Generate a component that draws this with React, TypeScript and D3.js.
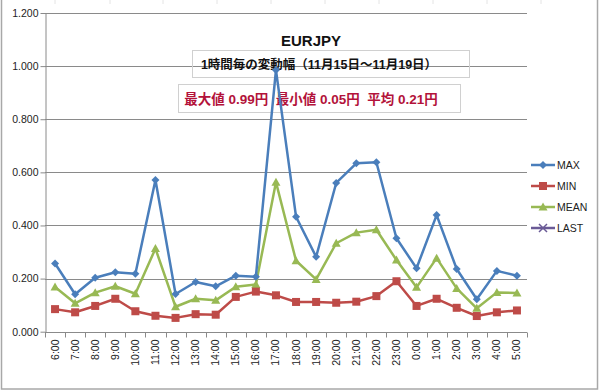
import React, { useEffect, useRef } from 'react';
import * as d3 from 'd3';

// hourly categories, 6:00 .. 5:00
const hours = ['6:00', '7:00', '8:00', '9:00', '10:00', '11:00', '12:00', '13:00', '14:00', '15:00', '16:00', '17:00',
  '18:00', '19:00', '20:00', '21:00', '22:00', '23:00', '0:00', '1:00', '2:00', '3:00', '4:00', '5:00'];

const maxValues = [0.257, 0.141, 0.203, 0.224, 0.218, 0.571, 0.142, 0.187, 0.171, 0.211, 0.207, 0.985,
  0.433, 0.282, 0.560, 0.634, 0.638, 0.352, 0.239, 0.439, 0.236, 0.122, 0.229, 0.211];
const minValues = [0.085, 0.073, 0.097, 0.124, 0.077, 0.060, 0.052, 0.066, 0.064, 0.131, 0.151, 0.137,
  0.112, 0.112, 0.109, 0.113, 0.134, 0.190, 0.097, 0.124, 0.090, 0.059, 0.073, 0.080];
const meanValues = [0.168, 0.107, 0.147, 0.171, 0.143, 0.313, 0.094, 0.124, 0.118, 0.169, 0.178, 0.563,
  0.267, 0.197, 0.333, 0.373, 0.384, 0.270, 0.167, 0.277, 0.163, 0.088, 0.148, 0.146];
const lastValues: number[] = []; // in legend only

const yTicks = [0, 0.2, 0.4, 0.6, 0.8, 1.0, 1.2];

const series = [
  { name: 'MAX', values: maxValues, color: '#4a7ebb', marker: 'diamond' },
  { name: 'MIN', values: minValues, color: '#be4b48', marker: 'square' },
  { name: 'MEAN', values: meanValues, color: '#98b954', marker: 'triangle' },
  { name: 'LAST', values: lastValues, color: '#6a5a96', marker: 'x' },
];

const FONT = 'Arial, "Liberation Sans", "Noto Sans CJK JP", sans-serif';

const App = () => {
  const ref = useRef<SVGSVGElement>(null);

  useEffect(() => {
    const svg = d3.select(ref.current);
    svg.selectAll('*').remove();

    const left = 45, right = 527, top = 13, bottom = 331.7;

    const x = d3.scaleBand().domain(hours).range([left, right]);
    const y = d3.scaleLinear().domain([0, 1.2]).range([bottom, top]);

    svg.append('rect').attr('width', 600).attr('height', 392).attr('fill', '#fff');

    // faint spreadsheet cells behind the chart
    const cells = svg.append('g').attr('stroke', '#e4e4e4').attr('stroke-width', 1);
    [55, 110, 163, 217, 271, 325, 379, 433, 487, 541].forEach(cx =>
      cells.append('line').attr('x1', cx).attr('x2', cx).attr('y1', 0).attr('y2', 4));

    // chart border
    svg.append('rect').attr('x', 1.5).attr('y', -2).attr('width', 596).attr('height', 391)
      .attr('fill', 'none').attr('stroke', '#a8a8a8').attr('stroke-width', 1.5);

    // gridlines
    svg.append('g').selectAll('line').data(yTicks.slice(1)).join('line')
      .attr('x1', left).attr('x2', right)
      .attr('y1', d => Math.round(y(d)) + 0.5).attr('y2', d => Math.round(y(d)) + 0.5)
      .attr('stroke', '#8a8a8a').attr('stroke-width', 1);

    // title boxes
    svg.append('rect').attr('x', 192.5).attr('y', 50.5).attr('width', 277).attr('height', 27)
      .attr('fill', 'none').attr('stroke', '#d0d0d0');
    svg.append('rect').attr('x', 178.5).attr('y', 84.5).attr('width', 282).attr('height', 28)
      .attr('fill', 'none').attr('stroke', '#d0d0d0');

    svg.append('text').attr('x', 311).attr('y', 46).attr('text-anchor', 'middle')
      .attr('font-family', FONT).attr('font-weight', 'bold').attr('font-size', 15).attr('fill', '#111')
      .text('EURJPY');
    svg.append('text').attr('x', 319).attr('y', 69).attr('text-anchor', 'middle')
      .attr('font-family', FONT).attr('font-weight', 'bold').attr('font-size', 12.5).attr('fill', '#111')
      .text('1時間毎の変動幅（11月15日～11月19日）');
    svg.append('text').attr('x', 311).attr('y', 104).attr('text-anchor', 'middle')
      .attr('font-family', FONT).attr('font-weight', 'bold').attr('font-size', 13.5).attr('fill', '#b3123a')
      .style('white-space', 'pre')
      .text('最大値 0.99円  最小値 0.05円  平均 0.21円');

    // y axis
    const yAxis = svg.append('g').attr('transform', `translate(${left + 0.5},0)`)
      .call(d3.axisLeft(y).tickValues(yTicks).tickFormat(d3.format('.3f')).tickSize(5).tickSizeOuter(0));
    yAxis.select('.domain').attr('stroke', '#8a8a8a');
    yAxis.selectAll('.tick line').attr('stroke', '#8a8a8a');
    yAxis.selectAll('text').attr('font-family', FONT).attr('font-size', 10.5).attr('fill', '#222').attr('x', -7);

    // x axis with ticks between categories
    const xAxis = svg.append('g').attr('transform', `translate(0,${Math.round(bottom) + 0.5})`);
    xAxis.append('line').attr('x1', left).attr('x2', right).attr('stroke', '#8a8a8a');
    xAxis.selectAll('line.tk').data(hours.concat(['end'])).join('line').attr('class', 'tk')
      .attr('x1', (d, i) => Math.round(left + i * x.bandwidth()) + 0.5)
      .attr('x2', (d, i) => Math.round(left + i * x.bandwidth()) + 0.5)
      .attr('y1', 0).attr('y2', 5).attr('stroke', '#8a8a8a');
    xAxis.selectAll('text').data(hours).join('text')
      .attr('transform', d => `translate(${x(d)! + x.bandwidth() / 2 + 3.5},7) rotate(-90)`)
      .attr('text-anchor', 'end').attr('font-family', FONT).attr('font-size', 10.5).attr('fill', '#222')
      .text(d => d);

    const line = d3.line<number>()
      .x((d, i) => x(hours[i])! + x.bandwidth() / 2)
      .y(d => y(d));

    const drawMarker = (g: d3.Selection<SVGGElement, unknown, null, undefined>, kind: string, color: string, cx: number, cy: number) => {
      if (kind === 'diamond') {
        g.append('path').attr('d', `M${cx},${cy - 4}L${cx + 4},${cy}L${cx},${cy + 4}L${cx - 4},${cy}Z`).attr('fill', color);
      } else if (kind === 'square') {
        g.append('rect').attr('x', cx - 4).attr('y', cy - 4).attr('width', 8).attr('height', 8).attr('fill', color);
      } else if (kind === 'triangle') {
        g.append('path').attr('d', `M${cx},${cy - 4.5}L${cx + 4.5},${cy + 3.5}L${cx - 4.5},${cy + 3.5}Z`).attr('fill', color);
      } else {
        g.append('path').attr('d', `M${cx - 4},${cy - 4}L${cx + 4},${cy + 4}M${cx - 4},${cy + 4}L${cx + 4},${cy - 4}`)
          .attr('stroke', color).attr('stroke-width', 1.5);
      }
    };

    // series, drawn back to front like Excel (MAX on top)
    [...series].reverse().forEach(s => {
      if (!s.values.length) return;
      const g = svg.append('g');
      g.append('path').datum(s.values).attr('d', line).attr('fill', 'none')
        .attr('stroke', s.color).attr('stroke-width', 2.5).attr('stroke-linejoin', 'round');
      s.values.forEach((v, i) => drawMarker(g, s.marker, s.color, x(hours[i])! + x.bandwidth() / 2, y(v)));
    });

    // legend
    series.forEach((s, i) => {
      const ly = 165 + i * 21;
      const g = svg.append('g');
      g.append('line').attr('x1', 531).attr('x2', 555).attr('y1', ly).attr('y2', ly)
        .attr('stroke', s.color).attr('stroke-width', 2.5);
      drawMarker(g, s.marker, s.color, 543, ly);
      g.append('text').attr('x', 557).attr('y', ly + 3.5).attr('font-family', FONT).attr('font-size', 10.5)
        .attr('fill', '#222').text(s.name);
    });
  }, []);

  return <svg ref={ref} width={600} height={392} style={{ position: 'absolute', left: 0, top: 0 }} />;
};

export default App;
